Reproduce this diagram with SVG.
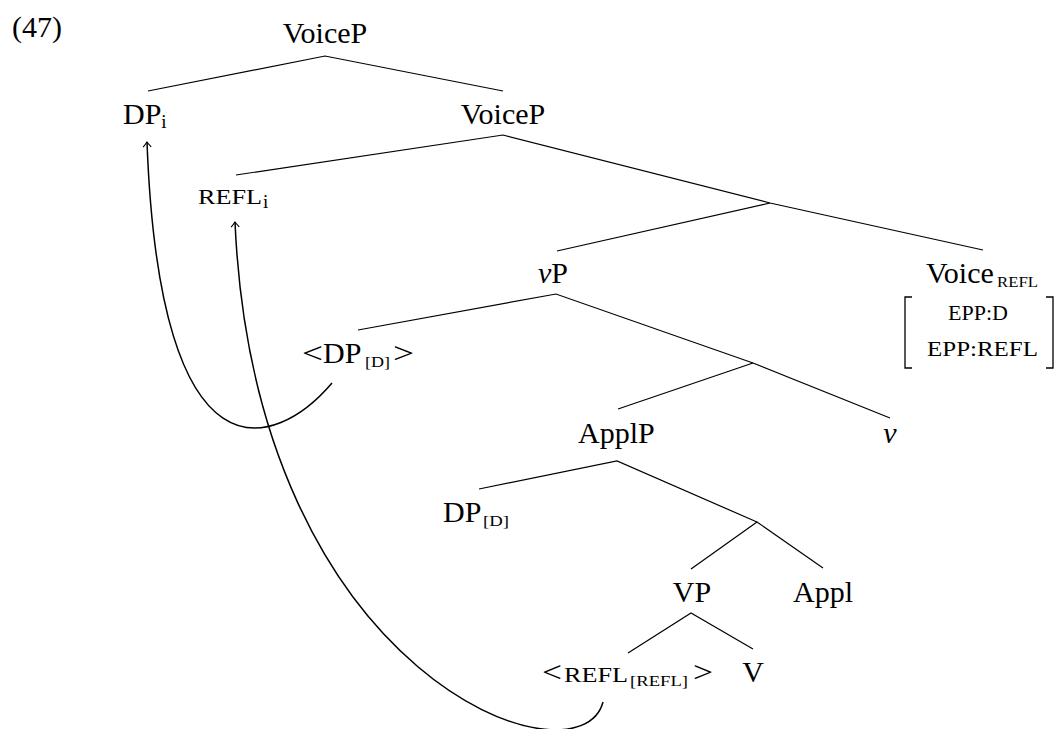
<svg xmlns="http://www.w3.org/2000/svg" width="1061" height="729" viewBox="0 0 1061 729">
<style>
text{font-family:"Liberation Serif","Times New Roman",serif;fill:#000}
.n{font-size:30px}
.sc{font-size:22px}
.sub{font-size:19px}
.ssc{font-size:15px}
.it{font-style:italic}
.e{stroke:#000;stroke-width:1.2;fill:none}
.mv{stroke:#000;stroke-width:1.5;fill:none;marker-end:url(#arr)}
.br{stroke:#000;stroke-width:1.3;fill:none}
</style>
<defs>
<marker id="arr" markerWidth="12" markerHeight="12" refX="0" refY="0" orient="auto" markerUnits="userSpaceOnUse" overflow="visible">
<path d="M -5 -4 Q -1.5 -1 0 0 Q -1.5 1 -5 4" fill="none" stroke="#000" stroke-width="1.2"/>
</marker>
</defs>
<rect width="1061" height="729" fill="#fff"/>
<text class="n" x="12" y="37">(47)</text>
<g id="connectors">
<path class="e" d="M148,91 L325,56 L503,91"/>
<path class="e" d="M236,175 L503,135 L770,203 L983,250"/>
<path class="e" d="M557,251 L770,203"/>
<path class="e" d="M358,330 L556,294 L753,363 L890,418"/>
<path class="e" d="M618,409 L753,363"/>
<path class="e" d="M479,489 L617,461 L757,522"/>
<path class="e" d="M691,569 L757,522 L823,568"/>
<path class="e" d="M628,653 L691,613 L753,649"/>
<path class="mv" d="M332,383 C275,450 160,490 147,142"/>
<path class="mv" d="M603,702 C580,790 255,680 235,222"/>
</g>
<g id="n-voicep-top"><text class="n" x="325" y="43" text-anchor="middle">VoiceP</text></g>
<g id="n-dpi"><text class="n" x="123" y="124">DP<tspan class="sub" dy="4">i</tspan></text></g>
<g id="n-voicep2"><text class="n" x="503" y="124" text-anchor="middle">VoiceP</text></g>
<g id="n-refli"><text class="sc" x="198" y="204" textLength="64" lengthAdjust="spacingAndGlyphs">REFL</text><text class="sub" x="263" y="208">i</text></g>
<g id="n-vp"><text class="n" x="538" y="283"><tspan class="it">v</tspan>P</text></g>
<g id="n-voicerefl">
<text class="n" x="926" y="283">Voice</text>
<text class="ssc" x="997" y="287" textLength="41" lengthAdjust="spacingAndGlyphs">REFL</text>
<path class="br" d="M912,297 L905,297 L905,368 L912,368"/>
<path class="br" d="M1046,297 L1053,297 L1053,368 L1046,368"/>
<text class="sc" x="948" y="320" textLength="60" lengthAdjust="spacingAndGlyphs">EPP:D</text>
<text class="sc" x="927" y="356" textLength="111" lengthAdjust="spacingAndGlyphs">EPP:REFL</text>
</g>
<g id="n-dpd-trace">
<text class="n" x="302" y="363" textLength="21" lengthAdjust="spacingAndGlyphs">&lt;</text>
<text class="n" x="323" y="363">DP</text>
<text class="ssc" x="365" y="367" textLength="25" lengthAdjust="spacingAndGlyphs">[D]</text>
<text class="n" x="393" y="363" textLength="21" lengthAdjust="spacingAndGlyphs">&gt;</text>
</g>
<g id="n-applp"><text class="n" x="578" y="443">ApplP</text></g>
<g id="n-v-small"><text class="n it" x="890" y="443" text-anchor="middle">v</text></g>
<g id="n-dpd"><text class="n" x="443" y="522">DP</text><text class="ssc" x="483" y="526" textLength="26" lengthAdjust="spacingAndGlyphs">[D]</text></g>
<g id="n-vp-lower"><text class="n" x="692" y="602" text-anchor="middle">VP</text></g>
<g id="n-appl"><text class="n" x="823" y="602" text-anchor="middle">Appl</text></g>
<g id="n-refl-trace">
<text class="n" x="542" y="682" textLength="20" lengthAdjust="spacingAndGlyphs">&lt;</text>
<text class="sc" x="564" y="682" textLength="64" lengthAdjust="spacingAndGlyphs">REFL</text>
<text class="ssc" x="630" y="686" textLength="58" lengthAdjust="spacingAndGlyphs">[REFL]</text>
<text class="n" x="693" y="682" textLength="20" lengthAdjust="spacingAndGlyphs">&gt;</text>
</g>
<g id="n-V"><text class="n" x="753" y="682" text-anchor="middle">V</text></g>
</svg>
